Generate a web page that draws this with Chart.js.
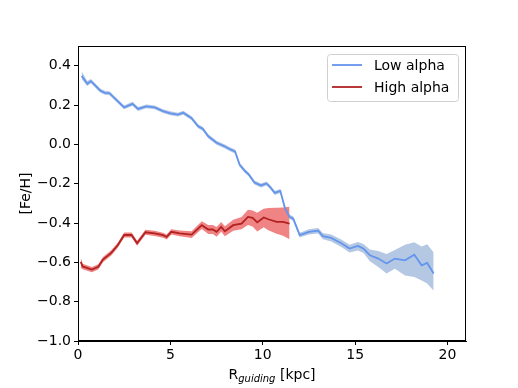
<!DOCTYPE html>
<html>
<head>
<meta charset="utf-8">
<script src="https://cdn.jsdelivr.net/npm/chart.js@4"></script>
<style>
html,body{margin:0;padding:0;background:#fff;}
canvas{display:block;}
</style>
</head>
<body>
<canvas id="c" width="518" height="388"></canvas>
<script>
// ---- data ----
const seriesNames = ["Low alpha", "High alpha"];

const lowX = [0.2,0.5,0.7,1.2,1.45,1.7,2.1,2.5,2.95,3.25,3.7,4.15,4.6,5.0,5.4,5.7,6.15,6.5,6.75,7.05,7.5,7.95,8.2,8.5,8.75,9.05,9.25,9.55,9.9,10.2,10.4,10.65,10.95,11.2,11.45,11.65,12.0,12.5,13.0,13.25,13.7,14.25,14.7,15.15,15.45,15.8,16.25,16.7,17.15,17.7,18.2,18.6,18.9,19.25];
const lowY = [0.348,0.308,0.321,0.274,0.262,0.260,0.224,0.188,0.206,0.180,0.193,0.188,0.169,0.158,0.151,0.161,0.133,0.092,0.079,0.041,0.008,-0.011,-0.024,-0.036,-0.104,-0.137,-0.154,-0.194,-0.209,-0.199,-0.217,-0.247,-0.237,-0.324,-0.369,-0.378,-0.462,-0.445,-0.439,-0.467,-0.476,-0.503,-0.530,-0.517,-0.530,-0.564,-0.581,-0.606,-0.581,-0.590,-0.561,-0.615,-0.603,-0.657];
const lowUpper = [0.372,0.322,0.332,0.284,0.272,0.270,0.234,0.198,0.216,0.190,0.203,0.198,0.179,0.168,0.161,0.171,0.143,0.102,0.089,0.051,0.018,-0.001,-0.014,-0.026,-0.094,-0.127,-0.144,-0.184,-0.199,-0.189,-0.207,-0.237,-0.227,-0.314,-0.358,-0.366,-0.450,-0.432,-0.425,-0.451,-0.458,-0.484,-0.510,-0.497,-0.507,-0.535,-0.543,-0.557,-0.537,-0.510,-0.498,-0.520,-0.508,-0.550];
const lowLower = [0.332,0.296,0.310,0.264,0.252,0.250,0.214,0.178,0.196,0.170,0.183,0.178,0.159,0.148,0.141,0.151,0.123,0.082,0.069,0.031,-0.002,-0.021,-0.034,-0.046,-0.114,-0.147,-0.164,-0.204,-0.219,-0.209,-0.227,-0.257,-0.247,-0.334,-0.380,-0.390,-0.474,-0.458,-0.453,-0.483,-0.494,-0.522,-0.550,-0.540,-0.553,-0.594,-0.624,-0.657,-0.633,-0.667,-0.674,-0.692,-0.707,-0.744];

const highX = [0.15,0.25,0.75,1.1,1.35,1.8,2.15,2.5,2.9,3.2,3.65,4.15,4.6,4.8,5.05,5.5,6.15,6.7,7.05,7.3,7.5,7.75,7.95,8.4,8.85,9.2,9.45,9.7,10.05,10.3,10.75,11.1,11.45];
const highY = [-0.598,-0.621,-0.637,-0.623,-0.586,-0.552,-0.513,-0.461,-0.461,-0.503,-0.447,-0.453,-0.462,-0.471,-0.445,-0.453,-0.459,-0.411,-0.433,-0.433,-0.445,-0.420,-0.442,-0.411,-0.403,-0.369,-0.374,-0.397,-0.372,-0.381,-0.394,-0.394,-0.403];
const highUpper = [-0.575,-0.607,-0.624,-0.610,-0.573,-0.539,-0.500,-0.448,-0.448,-0.490,-0.434,-0.440,-0.449,-0.458,-0.432,-0.438,-0.442,-0.391,-0.410,-0.410,-0.420,-0.395,-0.416,-0.383,-0.370,-0.333,-0.337,-0.348,-0.327,-0.324,-0.323,-0.321,-0.318];
const highLower = [-0.628,-0.635,-0.650,-0.636,-0.599,-0.565,-0.526,-0.474,-0.474,-0.516,-0.460,-0.466,-0.475,-0.484,-0.458,-0.468,-0.476,-0.431,-0.456,-0.456,-0.470,-0.445,-0.468,-0.439,-0.432,-0.410,-0.418,-0.443,-0.422,-0.437,-0.455,-0.465,-0.482];

const xTicks = [0, 5, 10, 15, 20];
const yTicks = [-1.0, -0.8, -0.6, -0.4, -0.2, 0.0, 0.2, 0.4];

// ---- styles ----
const FONT = "'DejaVu Sans', sans-serif";
const lowLineColor = '#6495ED';
const lowBandColor = 'rgba(135,166,210,0.62)';
const highLineColor = '#B22222';
const highBandColor = 'rgba(236,100,100,0.8)';

const pts = (xs, ys) => xs.map((x, i) => ({x: x, y: ys[i]}));

const frameAndText = {
  id: 'frameAndText',
  afterDraw(chart) {
    const ctx = chart.ctx, a = chart.chartArea;
    ctx.save();
    // frame (spines)
    ctx.strokeStyle = '#000';
    ctx.lineWidth = 1;
    ctx.strokeRect(Math.round(a.left) + 0.5, Math.round(a.top) + 0.5,
                   Math.round(a.right - a.left) - 1, Math.round(a.bottom - a.top) - 1);
    // x title with subscript
    ctx.fillStyle = '#000';
    ctx.textBaseline = 'alphabetic';
    ctx.textAlign = 'left';
    const big = "14px " + FONT, small = "italic 10px " + FONT;
    ctx.font = big; const wR = ctx.measureText('R').width;
    ctx.font = small; const wG = ctx.measureText('guiding').width;
    ctx.font = big; const wK = ctx.measureText(' [kpc]').width;
    const total = wR + wG + wK;
    let x0 = (a.left + a.right) / 2 - total / 2;
    const base = 378.5;
    ctx.font = big; ctx.fillText('R', x0, base);
    ctx.font = small; ctx.fillText('guiding', x0 + wR, base + 3);
    ctx.font = big; ctx.fillText(' [kpc]', x0 + wR + wG, base);
    // y title
    ctx.save();
    ctx.translate(26, (a.top + a.bottom) / 2);
    ctx.rotate(-Math.PI / 2);
    ctx.textAlign = 'center';
    ctx.textBaseline = 'middle';
    ctx.font = big;
    ctx.fillText('[Fe/H]', 0, 0);
    ctx.restore();
    // legend
    const bx = 327.5, by = 54.5, bw = 131, bh = 47, r = 3;
    ctx.beginPath();
    ctx.moveTo(bx + r, by);
    ctx.lineTo(bx + bw - r, by); ctx.arcTo(bx + bw, by, bx + bw, by + r, r);
    ctx.lineTo(bx + bw, by + bh - r); ctx.arcTo(bx + bw, by + bh, bx + bw - r, by + bh, r);
    ctx.lineTo(bx + r, by + bh); ctx.arcTo(bx, by + bh, bx, by + bh - r, r);
    ctx.lineTo(bx, by + r); ctx.arcTo(bx, by, bx + r, by, r);
    ctx.closePath();
    ctx.fillStyle = 'rgba(255,255,255,0.8)';
    ctx.fill();
    ctx.strokeStyle = '#d0d0d0';
    ctx.lineWidth = 1;
    ctx.stroke();
    const entries = [[seriesNames[0], lowLineColor, 65], [seriesNames[1], highLineColor, 87]];
    entries.forEach(e => {
      ctx.strokeStyle = e[1];
      ctx.lineWidth = 1.8;
      ctx.beginPath(); ctx.moveTo(332, e[2]); ctx.lineTo(362, e[2]); ctx.stroke();
      ctx.fillStyle = '#000';
      ctx.font = big;
      ctx.textAlign = 'left';
      ctx.textBaseline = 'middle';
      ctx.fillText(e[0], 374, e[2] + 1);
    });
    ctx.restore();
  }
};

new Chart(document.getElementById('c'), {
  type: 'line',
  data: {
    datasets: [
      {label: seriesNames[0], data: pts(lowX, lowY), borderColor: lowLineColor, borderWidth: 1.8, pointRadius: 0, fill: false, tension: 0},
      {label: seriesNames[1], data: pts(highX, highY), borderColor: highLineColor, borderWidth: 1.8, pointRadius: 0, fill: false, tension: 0},
      {label: 'high upper', data: pts(highX, highUpper), borderWidth: 0, borderColor: 'rgba(0,0,0,0)', pointRadius: 0, fill: '+1', backgroundColor: highBandColor, tension: 0},
      {label: 'high lower', data: pts(highX, highLower), borderWidth: 0, borderColor: 'rgba(0,0,0,0)', pointRadius: 0, fill: false, tension: 0},
      {label: 'low upper', data: pts(lowX, lowUpper), borderWidth: 0, borderColor: 'rgba(0,0,0,0)', pointRadius: 0, fill: '+1', backgroundColor: lowBandColor, tension: 0},
      {label: 'low lower', data: pts(lowX, lowLower), borderWidth: 0, borderColor: 'rgba(0,0,0,0)', pointRadius: 0, fill: false, tension: 0}
    ]
  },
  options: {
    responsive: false,
    animation: false,
    devicePixelRatio: 1,
    layout: {padding: {left: 0, top: 46, right: 52, bottom: 0}},
    plugins: {
      legend: {display: false},
      tooltip: {enabled: false},
      filler: {drawTime: 'beforeDatasetsDraw'}
    },
    scales: {
      x: {
        type: 'linear', min: 0, max: 21,
        afterBuildTicks: s => { s.ticks = xTicks.map(v => ({value: v})); },
        afterFit: s => { s.height = 47; },
        ticks: {font: {family: FONT, size: 14}, color: '#000', padding: 2, maxRotation: 0,
                callback: v => String(v)},
        grid: {drawOnChartArea: false, drawTicks: true, tickLength: 4, tickColor: '#000', tickWidth: 1},
        border: {display: true, color: '#000', width: 1}
      },
      y: {
        type: 'linear', min: -1, max: 0.5,
        afterBuildTicks: s => { s.ticks = yTicks.map(v => ({value: v})); },
        afterFit: s => { s.width = 78; },
        ticks: {font: {family: FONT, size: 14}, color: '#000', padding: 3,
                callback: v => Number(v).toFixed(1).replace('-', '\u2212')},
        grid: {drawOnChartArea: false, drawTicks: true, tickLength: 4, tickColor: '#000', tickWidth: 1},
        border: {display: true, color: '#000', width: 1}
      }
    }
  },
  plugins: [frameAndText]
});
</script>
</body>
</html>
